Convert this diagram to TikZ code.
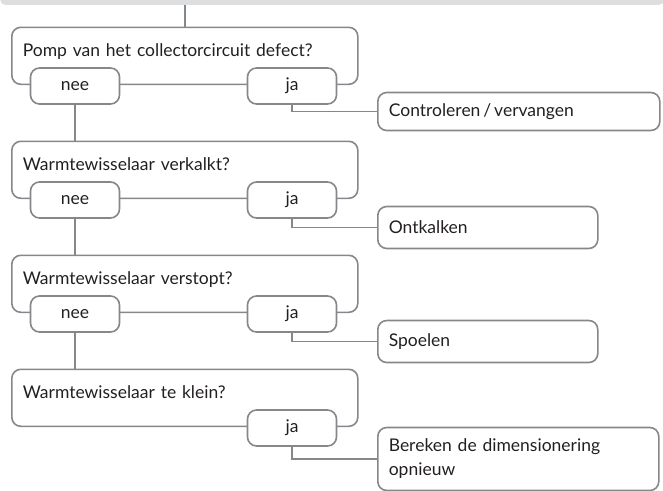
\documentclass[tikz,border=0pt]{standalone}
\usepackage{fontspec}
\setmainfont{Lato}
\usepackage{xcolor}
\definecolor{BoxLine}{HTML}{86878A}
\definecolor{BarFill}{HTML}{DDDEDF}
\definecolor{TextDark}{HTML}{231F20}
\newcommand{\boxfont}{\fontsize{17.5}{24}\selectfont}

\begin{document}
\begin{tikzpicture}[
	x=1pt, y=-1pt, % one unit is one pixel, y runs downwards
	% Style for the grey bar at the top
	top bar/.style={
		rectangle,
		fill=BarFill,
		rounded corners=5pt,
		minimum width=664pt,
		minimum height=16pt,
		inner sep=0pt,
		anchor=south west
	},
	% Style for the question boxes
	question/.style={
		rectangle,
		draw=BoxLine,
		line width=1.6pt,
		rounded corners=9pt,
		anchor=north west,
		text=TextDark,
		font=\boxfont,
		text width=324pt,
		align=left,
		inner xsep=11pt,
		inner ysep=0pt,
		text height=29pt,
		text depth=28pt
	},
	% Style for the nee / ja boxes
	choice/.style={
		rectangle,
		draw=BoxLine,
		fill=white,
		line width=1.6pt,
		rounded corners=9pt,
		minimum width=89pt,
		minimum height=36pt,
		inner sep=0pt,
		text=TextDark,
		font=\boxfont
	},
	% Style for the action boxes
	action/.style={
		rectangle,
		draw=BoxLine,
		line width=1.6pt,
		rounded corners=9pt,
		anchor=west,
		text=TextDark,
		font=\boxfont,
		align=left,
		inner xsep=11pt,
		inner ysep=0pt,
		minimum height=42pt
	},
	% Style for the connecting lines
	link/.style={
		draw=BoxLine,
		line width=1.7pt
	}
	]
	
	\useasboundingbox (0,0) rectangle (663,490);
	
	% ================= NODES =================
	\node[top bar] (bar) at (0,5) {};
	
	\node[question] (q1) at (11, 26.5) {Pomp van het collectorcircuit defect?};
	\node[question] (q2) at (11,140.5) {Warmtewisselaar verkalkt?};
	\node[question] (q3) at (11,254.5) {Warmtewisselaar verstopt?};
	\node[question] (q4) at (11,368.5) {Warmtewisselaar te klein?};
	
	\node[choice] (nee1) at ( 75, 86) {nee};
	\node[choice] (ja1)  at (292, 86) {ja};
	\node[choice] (nee2) at ( 75,200) {nee};
	\node[choice] (ja2)  at (292,200) {ja};
	\node[choice] (nee3) at ( 75,314) {nee};
	\node[choice] (ja3)  at (292,314) {ja};
	\node[choice] (ja4)  at (292,428) {ja};
	
	\node[action, text width=260pt, minimum height=38pt] (do1) at (377,111.5) {Controleren\,/\,vervangen};
	\node[action, text width=198pt] (do2) at (377,227.5) {Ontkalken};
	\node[action, text width=198pt] (do3) at (377,341.5) {Spoelen};
	\node[action, text width=259pt, minimum height=63pt] (do4) at (377,459) {Bereken de dimensionering\\opnieuw};
	
	% ================= EDGES =================
	\draw[link] (q1.north) -- (q1.north |- bar.south);
	\draw[link] (nee1.south) -- (nee1.south |- q2.north);
	\draw[link] (nee2.south) -- (nee2.south |- q3.north);
	\draw[link] (nee3.south) -- (nee3.south |- q4.north);
	\draw[link] (ja1.south) |- (do1.west);
	\draw[link] (ja2.south) |- (do2.west);
	\draw[link] (ja3.south) |- (do3.west);
	\draw[link] (ja4.south) |- (do4.west);
	
\end{tikzpicture}
\end{document}
